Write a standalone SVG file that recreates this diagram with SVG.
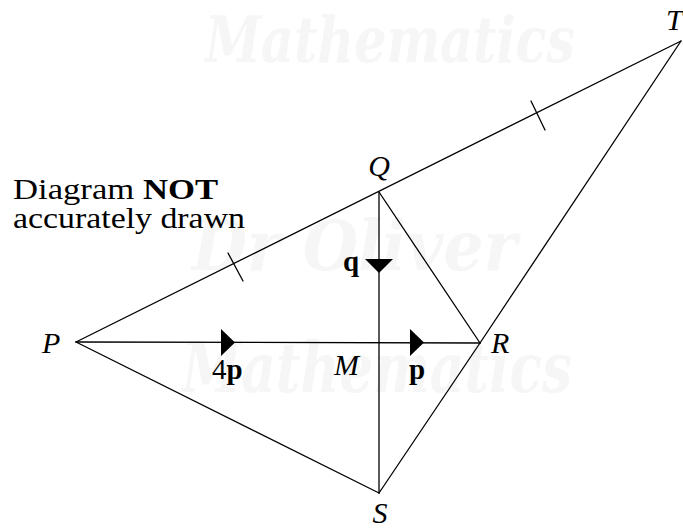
<svg xmlns="http://www.w3.org/2000/svg" width="683" height="529" viewBox="0 0 683 529">
<style>
.wm{font-family:'DejaVu Serif','Liberation Serif',serif;font-style:italic;font-weight:bold;fill:#f6f6f6}
.ln{stroke:#000;stroke-width:1.3;fill:none;stroke-linecap:round}
.lab{font-family:'Liberation Serif','DejaVu Serif',serif;font-style:italic;font-size:30px;fill:#000}
.vec{font-family:'Liberation Serif','DejaVu Serif',serif;font-weight:bold;font-size:29px;fill:#000}
.txt{font-family:'Liberation Serif','DejaVu Serif',serif;font-size:29px;fill:#000}
.arr{fill:#000;stroke:none}
</style>
<g id="watermark">
<text class="wm" x="205" y="62" font-size="64" textLength="370" lengthAdjust="spacingAndGlyphs">Mathematics</text>
<text class="wm" x="192" y="270" font-size="70" textLength="325" lengthAdjust="spacingAndGlyphs">Dr Oliver</text>
<text class="wm" x="182" y="392" font-size="70" textLength="390" lengthAdjust="spacingAndGlyphs">Mathematics</text>
</g>
<g id="connectors">
<line class="ln" x1="76" y1="342" x2="681" y2="41"/>
<line class="ln" x1="681" y1="41" x2="480" y2="343"/>
<line class="ln" x1="480" y1="343" x2="379" y2="493" stroke-width="1.8"/>
<line class="ln" x1="76" y1="342" x2="480" y2="343"/>
<line class="ln" x1="379" y1="192" x2="379" y2="493"/>
<line class="ln" x1="379" y1="192" x2="480" y2="343"/>
<line class="ln" x1="76" y1="342" x2="379" y2="493"/>
<line class="ln" x1="228" y1="253" x2="243" y2="281"/>
<line class="ln" x1="531" y1="101" x2="545" y2="130"/>
<polygon class="arr" points="221,329 235,342.5 221,356"/>
<polygon class="arr" points="410,329 424,342.5 410,356"/>
<polygon class="arr" points="365,259 393,259 379,273"/>
</g>
<g id="P"><text class="lab" x="42" y="353">P</text></g>
<g id="Q"><text class="lab" x="379" y="176" text-anchor="middle">Q</text></g>
<g id="R"><text class="lab" x="491" y="353">R</text></g>
<g id="S"><text class="lab" x="380" y="523" text-anchor="middle">S</text></g>
<g id="T"><text class="lab" x="666" y="30">T</text></g>
<g id="M"><text class="lab" x="334" y="375">M</text></g>
<g id="labels">
<text class="vec" x="343" y="271">q</text>
<text class="vec" x="409" y="379">p</text>
<text class="txt" x="212" y="379">4<tspan class="vec">p</tspan></text>
<text class="txt" x="13" y="199" textLength="205" lengthAdjust="spacingAndGlyphs">Diagram <tspan font-weight="bold">NOT</tspan></text>
<text class="txt" x="13" y="228" textLength="232" lengthAdjust="spacingAndGlyphs">accurately drawn</text>
</g>
</svg>
